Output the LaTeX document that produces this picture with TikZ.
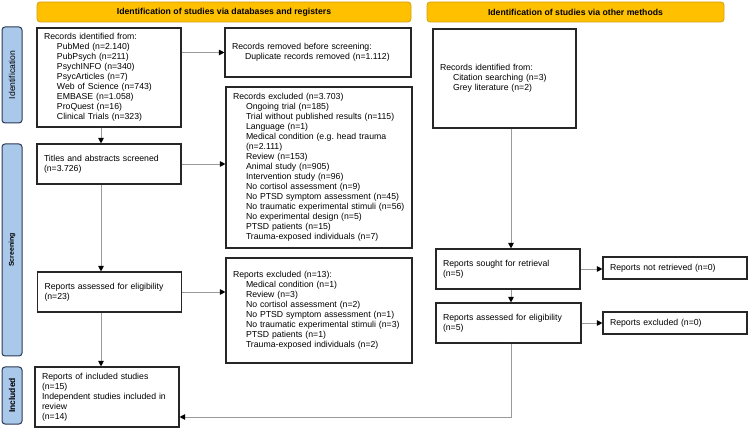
\documentclass[tikz,border=0pt]{standalone}
\usepackage{fontspec}
\setmainfont{Liberation Sans}
\usetikzlibrary{arrows.meta,calc}
\frenchspacing
\definecolor{banner}{HTML}{FFC000}
\definecolor{bannerline}{HTML}{D4A017}
\definecolor{sidefill}{HTML}{A9C8EA}
\definecolor{sideline}{HTML}{2B3A55}
\definecolor{conn}{HTML}{9A9A9A}
\newcommand\ii{\hspace*{13pt}}
\tikzset{
  x=1pt, y=-1pt,
  every node/.style={font=\fontsize{8.7}{10}\selectfont},
  box/.style={draw=black!85, line width=1.1pt, align=left, inner xsep=7pt, inner ysep=0pt, anchor=center},
  bannerbox/.style={draw=bannerline, fill=banner, line width=0.8pt, rounded corners=3pt, minimum height=20pt, inner sep=0pt, font=\fontsize{8.7}{10}\selectfont\bfseries},
  sidebox/.style={draw=sideline, fill=sidefill, line width=1pt, rounded corners=3pt, rotate=90, minimum height=20pt, inner sep=0pt},
  arr/.style={draw=conn, line width=0.9pt, -{Triangle[length=5.5pt,width=5.5pt,black]}}
}
\begin{document}
\begin{tikzpicture}
\useasboundingbox (0,0) rectangle (750,430);
% banners
\node[bannerbox, minimum width=374pt] (banL) at (224,12) {Identification of studies via databases and registers};
\node[bannerbox, minimum width=297pt] (banR) at (575.5,12) {Identification of studies via other methods};
% side labels
\node[sidebox, minimum width=96pt] (sId) at (12,75) {\fontsize{8.6}{10}\selectfont Identification};
\node[sidebox, minimum width=212pt] (sSc) at (12,250) {\fontsize{7}{10}\selectfont\bfseries Screening};
\node[sidebox, minimum width=57pt] (sIn) at (12,395.5) {\fontsize{8.5}{10}\selectfont\bfseries Included};
% left column
\node[box, text width=130pt, minimum height=99pt] (b1) at (109,77.5) {Records identified from:\\
\ii PubMed (n=2.140)\\
\ii PubPsych (n=211)\\
\ii PsychINFO (n=340)\\
\ii PsycArticles (n=7)\\
\ii Web of Science (n=743)\\
\ii EMBASE (n=1.058)\\
\ii ProQuest (n=16)\\
\ii Clinical Trials (n=323)};
\node[box, text width=172pt, minimum height=49pt] (rem) at (318,52.5) {Records removed before screening:\\
\ii Duplicate records removed (n=1.112)};
\node[box, text width=130pt, minimum height=40pt] (scr) at (109,164) {Titles and abstracts screened\\(n=3.726)};
\node[box, text width=172pt, minimum height=161pt] (exc) at (319,167.5) {Records excluded (n=3.703)\\
\ii Ongoing trial (n=185)\\
\ii Trial without published results (n=115)\\
\ii Language (n=1)\\
\ii Medical condition (e.g. head trauma\\
\ii (n=2.111)\\
\ii Review (n=153)\\
\ii Animal study (n=905)\\
\ii Intervention study (n=96)\\
\ii No cortisol assessment (n=9)\\
\ii No PTSD symptom assessment (n=45)\\
\ii No traumatic experimental stimuli (n=56)\\
\ii No experimental design (n=5)\\
\ii PTSD patients (n=15)\\
\ii Trauma-exposed individuals (n=7)};
\node[box, text width=130pt, minimum height=40pt] (ass) at (109.5,292) {Reports assessed for eligibility\\(n=23)};
\node[box, text width=172pt, minimum height=105pt] (rex) at (319,310.5) {Reports excluded (n=13):\\
\ii Medical condition (n=1)\\
\ii Review (n=3)\\
\ii No cortisol assessment (n=2)\\
\ii No PTSD symptom assessment (n=1)\\
\ii No traumatic experimental stimuli (n=3)\\
\ii PTSD patients (n=1)\\
\ii Trauma-exposed individuals (n=2)};
\node[box, text width=130pt, minimum height=60pt] (inc) at (107,397) {Reports of included studies\\(n=15)\\Independent studies included in\\review\\(n=14)};
% right column
\node[box, text width=129pt, minimum height=99pt] (oth) at (504.5,78.5) {Records identified from:\\
\ii Citation searching (n=3)\\
\ii Grey literature (n=2)};
\node[box, text width=130pt, minimum height=40pt] (sou) at (508,269) {Reports sought for retrieval\\(n=5)};
\node[box, text width=130pt, minimum height=22pt] (nre) at (675,268) {Reports not retrieved (n=0)};
\node[box, text width=131pt, minimum height=40pt] (oas) at (508.5,323) {Reports assessed for eligibility\\(n=5)};
\node[box, text width=130pt, minimum height=22pt] (oex) at (675,323) {Reports excluded (n=0)};
% connector guides
\coordinate (cx) at (101,0);
\coordinate (cx2) at (511,0);
\coordinate (cy) at (0,417);
% connectors
\draw[arr] (b1.east |- rem.west) -- (rem.west);
\draw[arr] (b1.south -| cx) -- (scr.north -| cx);
\draw[arr] (scr.east) -- (scr.east -| exc.west);
\draw[arr] (scr.south -| cx) -- (ass.north -| cx);
\draw[arr] (ass.east) -- (ass.east -| rex.west);
\draw[arr] (ass.south -| cx) -- (inc.north -| cx);
\draw[arr] (oth.south -| cx2) -- (sou.north -| cx2);
\draw[arr] (sou.east) -- (sou.east -| nre.west);
\draw[arr] (sou.south -| cx2) -- (oas.north -| cx2);
\draw[arr] (oas.east) -- (oex.west);
\draw[arr] (oas.south -| cx2) |- (inc.east |- cy);
\end{tikzpicture}
\end{document}
